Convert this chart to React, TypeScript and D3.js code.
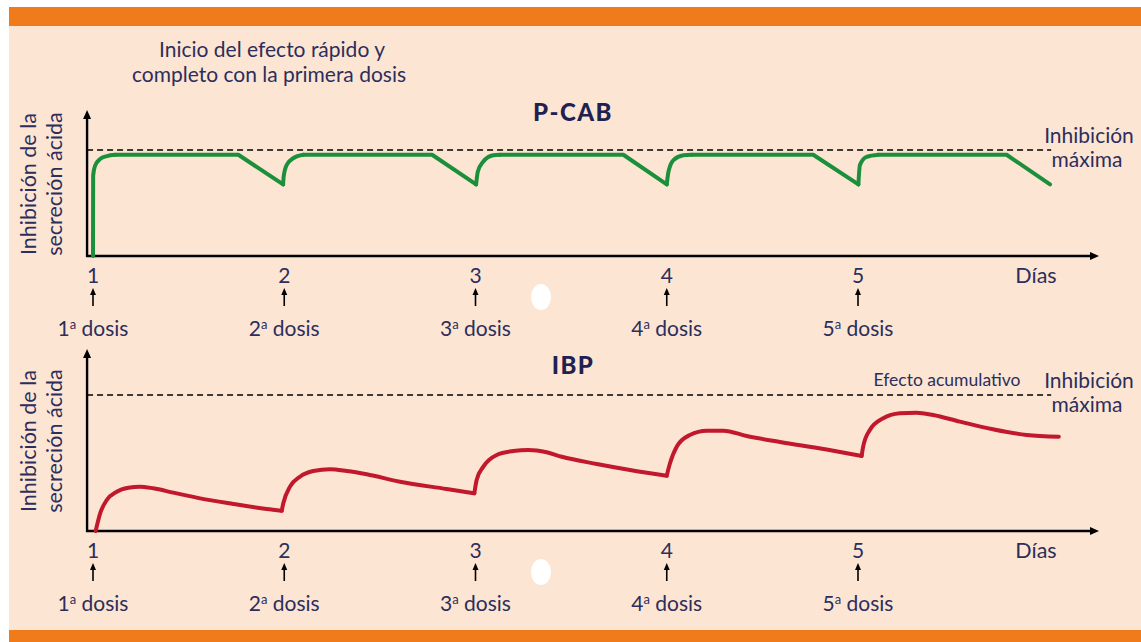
import * as d3 from "d3";

// Day positions of each dose
const days = [1, 2, 3, 4, 5];
const doseNames = ["1", "2", "3", "4", "5"];

// P-CAB (green): fast rise right after every dose, then plateau and drop before next dose
const pcabRise: [number, number][][] = [
  [[1.0, 0], [1.0008, 76], [1.0105, 85], [1.037, 91.5], [1.073, 94.3], [1.115, 95.5]],
  [[1.994, 67.5], [1.997, 75], [2.013, 86], [2.047, 92.2], [2.1, 95.5]],
  [[3.003, 67.5], [3.012, 79.5], [3.04, 89], [3.093, 95], [3.128, 95.5]],
  [[4.0, 67.5], [4.009, 79.5], [4.035, 90.5], [4.087, 95], [4.13, 95.5]],
  [[5.002, 67.5], [5.01, 85.8], [5.045, 93.5], [5.106, 95.5]],
];
const pcabFall: [number, number][][] = [
  [[1.115, 95.5], [1.76, 95.5], [1.994, 67.5]],
  [[2.1, 95.5], [2.773, 95.5], [3.003, 67.5]],
  [[3.128, 95.5], [3.773, 95.5], [4.0, 67.5]],
  [[4.13, 95.5], [4.766, 95.5], [5.002, 67.5]],
  [[5.106, 95.5], [5.777, 95.5], [6.004, 67.5]],
];

// IBP (red): slow, cumulative rise, one cycle per dose
const ibpCycles: [number, number][][] = [
  [[1.014, 0], [1.037, 12.8], [1.072, 22.8], [1.124, 28.9], [1.185, 31.8], [1.246, 32.6], [1.315, 31.4],
    [1.42, 28.2], [1.56, 24], [1.734, 19.9], [1.908, 16.2], [1.987, 14.9]],
  [[1.987, 14.9], [1.995, 20.4], [2.03, 32.6], [2.082, 39.9], [2.152, 44.1], [2.239, 45.4], [2.327, 44.1],
    [2.431, 41.7], [2.605, 36.2], [2.849, 30.9], [2.994, 27.7]],
  [[2.994, 27.7], [3.006, 37.5], [3.041, 47.3], [3.111, 55.9], [3.198, 58.8], [3.276, 59.6], [3.372, 57.9],
    [3.451, 54.6], [3.634, 49.3], [3.808, 44.9], [4.0, 40.7]],
  [[4.0, 40.7], [4.017, 49.8], [4.052, 62.0], [4.121, 70.6], [4.209, 73.8], [4.296, 73.8], [4.418, 69.8],
    [4.592, 65.5], [4.836, 59.9], [5.019, 55.2]],
  [[5.019, 55.2], [5.027, 62.0], [5.062, 74.3], [5.132, 82.9], [5.219, 86.5], [5.306, 87.0], [5.393, 85.3],
    [5.532, 80.4], [5.706, 74.8], [5.881, 70.6], [6.05, 69.3]],
];

const W = 1141;
const H = 642;
const ORANGE = "#ef7b1b";
const PEACH = "#fde5d3";
const INK = "#2c2e5c";
const GREEN = "#1b8f3b";
const RED = "#c1182d";
const FONT = "Lato, 'Open Sans', sans-serif";

const x = d3.scaleLinear().domain([1, 5]).range([93, 858]);
const axisStart = 0.969;
const axisEnd = 6.26;
const dashEnd = 6.01;

const yTop = d3.scaleLinear().domain([0, 100]).range([256, 150]);
const yBot = d3.scaleLinear().domain([0, 100]).range([531, 395]);

function Panel({ y, top, title, titleY, children, extraLabel }: any) {
  const y0 = y(0);
  const yMax = y(100);
  const axisTop = top;
  return (
    <g>
      {/* y axis */}
      <line x1={x(axisStart)} x2={x(axisStart)} y1={y0 + 1} y2={axisTop + 6} stroke="#000" strokeWidth={2.4} />
      <path d={`M${x(axisStart)},${axisTop} l-4,9 l8,0 z`} fill="#000" />
      {/* x axis */}
      <line x1={x(axisStart) - 1} x2={x(axisEnd) - 6} y1={y0} y2={y0} stroke="#000" strokeWidth={2.4} />
      <path d={`M${x(axisEnd)},${y0} l-9,-4 l0,8 z`} fill="#000" />
      {/* maximum inhibition */}
      <line x1={x(axisStart)} x2={x(dashEnd)} y1={yMax} y2={yMax} stroke="#000" strokeWidth={1.6} strokeDasharray="6,4" />
      {children}
      <text x={573} y={titleY} textAnchor="middle" fontFamily={FONT} fontWeight={900} fontSize={24} letterSpacing={1.5} fill="#1f2150">
        {title}
      </text>
      <text x={1089} y={yMax - 7} textAnchor="middle" fontFamily={FONT} fontSize={21} fill={INK}>Inhibición</text>
      <text x={1087} y={yMax + 17} textAnchor="middle" fontFamily={FONT} fontSize={21} fill={INK}>máxima</text>
      {extraLabel}
      {/* y label */}
      <g transform={`translate(0,${(y0 + axisTop) / 2 + 1})`}>
        <text transform="translate(35.5,0) rotate(-90)" textAnchor="middle" fontFamily={FONT} fontSize={21.5} fill={INK}>
          Inhibición de la
        </text>
        <text transform="translate(61.5,0) rotate(-90)" textAnchor="middle" fontFamily={FONT} fontSize={21.5} fill={INK}>
          secreción ácida
        </text>
      </g>
      {/* days and doses */}
      {days.map((d, i) => (
        <g key={d}>
          <text x={x(d)} y={y0 + 26.5} textAnchor="middle" fontFamily={FONT} fontSize={21} fill={INK}>{d}</text>
          <line x1={x(d)} x2={x(d)} y1={y0 + 50} y2={y0 + 36} stroke="#000" strokeWidth={1.6} />
          <path d={`M${x(d)},${y0 + 32} l-3,7 l6,0 z`} fill="#000" />
          <text x={x(d)} y={y0 + 80} textAnchor="middle" fontFamily={FONT} fontSize={21} fill={INK}>
            {doseNames[i]}
            <tspan fontSize={13} dy={-7}>a</tspan>
            <tspan dy={7}> dosis</tspan>
          </text>
        </g>
      ))}
      <text x={1036} y={y0 + 26.5} textAnchor="middle" fontFamily={FONT} fontSize={21.5} fill={INK}>Días</text>
      <ellipse cx={541} cy={y0 + 41} rx={10} ry={13} fill="#fff" />
    </g>
  );
}

export default function App() {
  const smooth = (y: any) =>
    d3
      .line<[number, number]>()
      .x((d) => x(d[0]))
      .y((d) => y(d[1]))
      .curve(d3.curveMonotoneX);
  const straight = (y: any) =>
    d3
      .line<[number, number]>()
      .x((d) => x(d[0]))
      .y((d) => y(d[1]));

  const riseTop = smooth(yTop);
  const fallTop = straight(yTop);
  const ibpLine = smooth(yBot);

  return (
    <svg width={W} height={H} style={{ position: "absolute", left: 0, top: 0, background: "#fff" }}>
      <rect x={9} y={7} width={W - 9} height={H - 7} fill={PEACH} />
      <rect x={9} y={7} width={W - 9} height={19} fill={ORANGE} />
      <rect x={9} y={630} width={W - 9} height={12} fill={ORANGE} />

      <text x={272} y={57} textAnchor="middle" fontFamily={FONT} fontSize={21} fill={INK}>Inicio del efecto rápido y</text>
      <text x={269} y={81.5} textAnchor="middle" fontFamily={FONT} fontSize={21} fill={INK}>completo con la primera dosis</text>

      <Panel y={yTop} top={110} title="P-CAB" titleY={121}>
        {pcabFall.map((seg, i) => (
          <path key={"f" + i} d={fallTop(seg) || ""} fill="none" stroke={GREEN} strokeWidth={4} strokeLinecap="round" strokeLinejoin="round" />
        ))}
        {pcabRise.map((seg, i) => (
          <path key={"r" + i} d={riseTop(seg) || ""} fill="none" stroke={GREEN} strokeWidth={4} strokeLinecap="round" strokeLinejoin="round" />
        ))}
      </Panel>

      <Panel
        y={yBot}
        top={349}
        title="IBP"
        titleY={374}
        extraLabel={
          <text x={947} y={386} textAnchor="middle" fontFamily={FONT} fontSize={17.5} fill={INK}>Efecto acumulativo</text>
        }
      >
        {ibpCycles.map((seg, i) => (
          <path key={"c" + i} d={ibpLine(seg) || ""} fill="none" stroke={RED} strokeWidth={4} strokeLinecap="round" strokeLinejoin="round" />
        ))}
      </Panel>
    </svg>
  );
}
